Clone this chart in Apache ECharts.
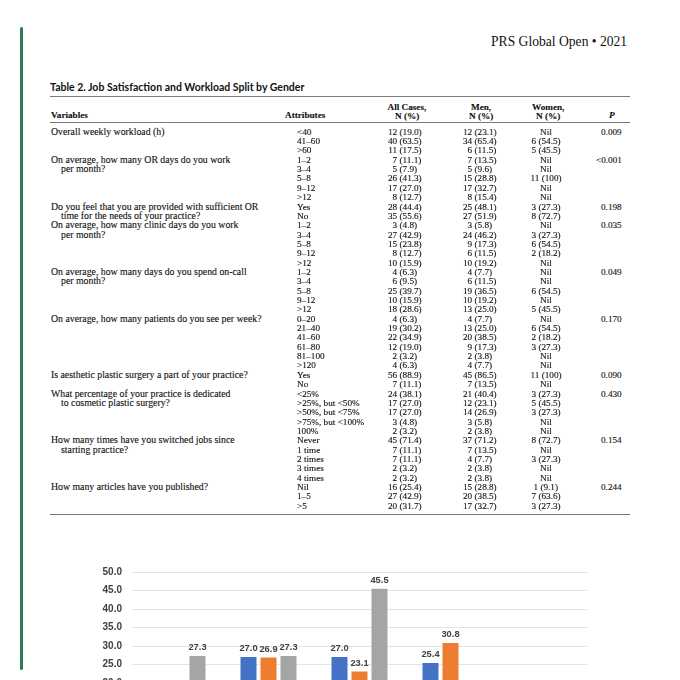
<!DOCTYPE html>
<html>
<head>
<meta charset="utf-8">
<script src="https://cdn.jsdelivr.net/npm/echarts@6/dist/echarts.min.js"></script>
<style>
  html, body { margin: 0; padding: 0; background: #fff; }
  body { width: 680px; height: 680px; overflow: hidden; position: relative; }
  .t { position: absolute; white-space: nowrap; font-family: "Liberation Serif", serif; font-size: 9.8px; line-height: 10px; color: #111; -webkit-text-stroke: 0.12px #111; }
  .n { font-size: 9.2px; }
  .b { font-weight: bold; }
  .rule { position: absolute; left: 50px; width: 580px; background: #7a7a7a; }
  #chart { position: absolute; left: 0; top: 500px; width: 680px; height: 340px; }
</style>
</head>
<body>
<div style="position:absolute;left:20px;top:27px;width:3px;height:643px;background:#2f7a4e;border-radius:2px;"></div>
<div id="chart"></div>
<script>
// ---------- Table data ----------
const tableTitle = "Table 2. Job Satisfaction and Workload Split by Gender";
const journalHeader = "PRS Global Open \u2022 2021";
const variableLines = [
  [0, "Overall weekly workload (h)", false],
  [3, "On average, how many OR days do you work", false],
  [4, "per month?", true],
  [8, "Do you feel that you are provided with sufficient OR", false],
  [9, "time for the needs of your practice?", true],
  [10, "On average, how many clinic days do you work", false],
  [11, "per month?", true],
  [15, "On average, how many days do you spend on-call", false],
  [16, "per month?", true],
  [20, "On average, how many patients do you see per week?", false],
  [26, "Is aesthetic plastic surgery a part of your practice?", false],
  [28, "What percentage of your practice is dedicated", false],
  [29, "to cosmetic plastic surgery?", true],
  [33, "How many times have you switched jobs since", false],
  [34, "starting practice?", true],
  [38, "How many articles have you published?", false]
];
const attributes = ["<40","41\u201360",">60","1\u20132","3\u20134","5\u20138","9\u201312",">12","Yes","No",
  "1\u20132","3\u20134","5\u20138","9\u201312",">12","1\u20132","3\u20134","5\u20138","9\u201312",">12",
  "0\u201320","21\u201340","41\u201360","61\u201380","81\u2013100",">120","Yes","No",
  "<25%",">25%, but <50%",">50%, but <75%",">75%, but <100%","100%",
  "Never","1 time","2 times","3 times","4 times","Nil","1\u20135",">5"];
const allCases = ["12 (19.0)","40 (63.5)","11 (17.5)","7 (11.1)","5 (7.9)","26 (41.3)","17 (27.0)","8 (12.7)","28 (44.4)","35 (55.6)",
  "3 (4.8)","27 (42.9)","15 (23.8)","8 (12.7)","10 (15.9)","4 (6.3)","6 (9.5)","25 (39.7)","10 (15.9)","18 (28.6)",
  "4 (6.3)","19 (30.2)","22 (34.9)","12 (19.0)","2 (3.2)","4 (6.3)","56 (88.9)","7 (11.1)",
  "24 (38.1)","17 (27.0)","17 (27.0)","3 (4.8)","2 (3.2)","45 (71.4)","7 (11.1)","7 (11.1)","2 (3.2)","2 (3.2)",
  "16 (25.4)","27 (42.9)","20 (31.7)"];
const menCases = ["12 (23.1)","34 (65.4)","6 (11.5)","7 (13.5)","5 (9.6)","15 (28.8)","17 (32.7)","8 (15.4)","25 (48.1)","27 (51.9)",
  "3 (5.8)","24 (46.2)","9 (17.3)","6 (11.5)","10 (19.2)","4 (7.7)","6 (11.5)","19 (36.5)","10 (19.2)","13 (25.0)",
  "4 (7.7)","13 (25.0)","20 (38.5)","9 (17.3)","2 (3.8)","4 (7.7)","45 (86.5)","7 (13.5)",
  "21 (40.4)","12 (23.1)","14 (26.9)","3 (5.8)","2 (3.8)","37 (71.2)","7 (13.5)","4 (7.7)","2 (3.8)","2 (3.8)",
  "15 (28.8)","20 (38.5)","17 (32.7)"];
const womenCases = ["Nil","6 (54.5)","5 (45.5)","Nil","Nil","11 (100)","Nil","Nil","3 (27.3)","8 (72.7)",
  "Nil","3 (27.3)","6 (54.5)","2 (18.2)","Nil","Nil","Nil","6 (54.5)","Nil","5 (45.5)",
  "Nil","6 (54.5)","2 (18.2)","3 (27.3)","Nil","Nil","11 (100)","Nil",
  "3 (27.3)","5 (45.5)","3 (27.3)","Nil","Nil","8 (72.7)","Nil","3 (27.3)","Nil","Nil",
  "1 (9.1)","7 (63.6)","3 (27.3)"];
const pValues = [[0,"0.009"],[3,"<0.001"],[8,"0.198"],[10,"0.035"],[15,"0.049"],[20,"0.170"],[26,"0.090"],[28,"0.430"],[33,"0.154"],[38,"0.244"]];

// ---------- Chart data ----------
const categories = ["Group 1", "Group 2", "Group 3", "Group 4", "Group 5"];
const seriesNames = ["All Cases", "Men", "Women"];
const allValues = [11.1, 27.0, 27.0, 25.4, 15.9];
const menValues = [13.5, 26.9, 23.1, 30.8, 15.4];
const womenValues = [27.3, 27.3, 45.5, 9.1, 9.1];
const yTicks = { min: 0, max: 50, interval: 5 };

// ---------- Build table (HTML text) ----------
function esc(s){ return s.replace(/&/g,"&amp;").replace(/</g,"&lt;").replace(/>/g,"&gt;"); }
function addText(html, x, y, cls, align) {
  const d = document.createElement("div");
  d.className = "t " + (cls || "");
  d.innerHTML = html;
  d.style.top = (y - 5) + "px";
  document.body.appendChild(d);
  if (align === "center") d.style.left = (x - d.offsetWidth / 2) + "px";
  else if (align === "right") d.style.left = (x - d.offsetWidth) + "px";
  else d.style.left = x + "px";
  return d;
}
function addRule(y, h) {
  const r = document.createElement("div");
  r.className = "rule"; r.style.top = y + "px"; r.style.height = h + "px";
  document.body.appendChild(r);
}
function countHtml(s) {
  const m = s.match(/^(\d+)(.*)$/);
  if (!m) return esc(s);
  return '<span style="display:inline-block;width:1em;text-align:right">' + m[1] + '</span>' + esc(m[2]);
}

const hdr = addText(esc(journalHeader), 627, 42, "", "right");
hdr.style.fontSize = "13.6px"; hdr.style.lineHeight = "16px"; hdr.style.top = "34px"; hdr.style.webkitTextStroke = "0";
hdr.style.left = (627 - hdr.offsetWidth) + "px";

const tt = addText(esc(tableTitle), 50, 86.5, "b", "left");
tt.style.fontFamily = "Lato, 'Open Sans', sans-serif"; tt.style.fontSize = "10.5px"; tt.style.webkitTextStroke = "0";

addRule(95.5, 1.5);
addRule(122, 1.2);
addRule(513.5, 1.5);

addText("Variables", 51, 115, "b n", "left");
addText("Attributes", 285, 115, "b n", "left");
addText("All Cases,", 407, 106.5, "b n", "center");
addText("N (%)", 407, 115.7, "b n", "center");
addText("Men,", 481, 106.5, "b n", "center");
addText("N (%)", 481, 115.7, "b n", "center");
addText("Women,", 548, 106.5, "b n", "center");
addText("N (%)", 548, 115.7, "b n", "center");
const pH = addText("P", 612, 115, "b n", "center"); pH.style.fontStyle = "italic";

const row0 = 131.7, rowH = 9.35;
variableLines.forEach(([r, txt, indent]) => addText(esc(txt), indent ? 61 : 51, row0 + r * rowH, "", "left"));
attributes.forEach((a, i) => addText(esc(a), 297, row0 + i * rowH, "n", "left"));
allCases.forEach((a, i) => addText(countHtml(a), 388, row0 + i * rowH, "n", "left"));
menCases.forEach((a, i) => addText(countHtml(a), 463, row0 + i * rowH, "n", "left"));
womenCases.forEach((a, i) => addText(esc(a), 546, row0 + i * rowH, "n", "center"));
pValues.forEach(([r, p]) => addText(esc(p), 622, row0 + r * rowH, "n", "right"));

// ---------- Chart ----------
const chart = echarts.init(document.getElementById("chart"), null, { renderer: "canvas" });
const colors = ["#4472C4", "#ED7D31", "#A5A5A5"];
const labelStyle = {
  show: true, position: "top", distance: 4,
  fontFamily: "Liberation Sans, Arial, sans-serif", fontWeight: "bold", fontSize: 9.3, color: "#404040",
  formatter: p => p.value.toFixed(1)
};
const valueSets = [allValues, menValues, womenValues];
chart.setOption({
  animation: false,
  color: colors,
  grid: { left: 132, right: 93, top: 72, bottom: 83, containLabel: false },
  legend: { show: true, bottom: 10, data: seriesNames, textStyle: { fontFamily: "Liberation Sans", fontSize: 10 } },
  xAxis: {
    type: "category", data: categories,
    axisTick: { show: false },
    axisLine: { lineStyle: { color: "#d9d9d9" } },
    axisLabel: { color: "#404040", fontFamily: "Liberation Sans", fontWeight: "bold", fontSize: 10 }
  },
  yAxis: {
    type: "value", min: yTicks.min, max: yTicks.max, interval: yTicks.interval,
    axisLine: { show: false }, axisTick: { show: false },
    splitLine: { lineStyle: { color: "#e3e3e3", width: 1 } },
    axisLabel: { margin: 10, color: "#404040", fontFamily: "Liberation Sans", fontWeight: "bold", fontSize: 10,
      formatter: v => v.toFixed(1) }
  },
  series: seriesNames.map((n, i) => ({
    name: n, type: "bar", data: valueSets[i],
    barWidth: 16, barGap: "25%",
    label: labelStyle
  }))
});
</script>
</body>
</html>
